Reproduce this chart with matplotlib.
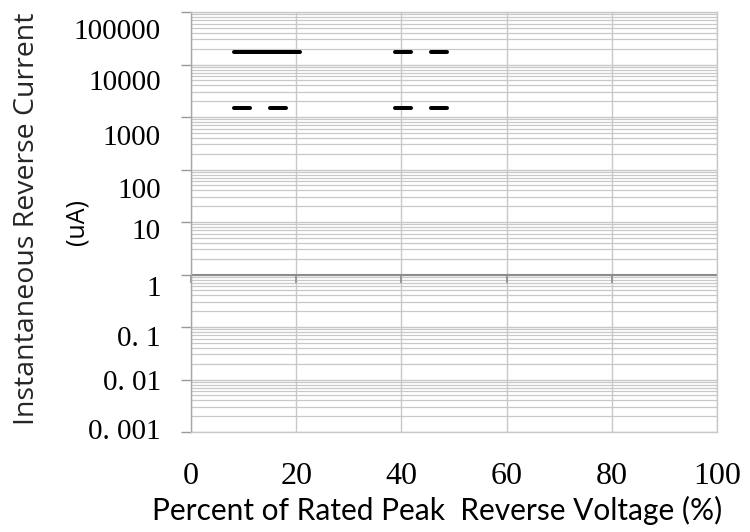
import matplotlib
matplotlib.use("Agg")
import matplotlib.pyplot as plt
from matplotlib.transforms import offset_copy, blended_transform_factory
import numpy as np

# ---- data ----
solid_x = [8.2, 20.7]
solid_y = [17300, 17300]
dash_hi_x = [38.8, 48.9]
dash_hi_y = [17300, 17300]
dash_lo_left_x = [8.2, 18.1]
dash_lo_left_y = [1480, 1480]
dash_lo_right_x = [38.8, 48.9]
dash_lo_right_y = [1480, 1480]

x_ticks = [0, 20, 40, 60, 80, 100]
x_tick_labels = ["0", "20", "40", "60", "80", "100"]
y_ticks = [1e-3, 1e-2, 1e-1, 1, 10, 100, 1000, 1e4, 1e5]
y_tick_labels = ["0. 001", "0. 01", "0. 1", "1", "10", "100", "1000", "10000", "100000"]
x_label = "Percent of Rated Peak  Reverse Voltage (%)"
y_label = "Instantaneous Reverse Current"
y_unit = "(uA)"

# ---- layout ----
DPI = 100
fig = plt.figure(figsize=(7.5, 5.32), dpi=DPI)
ax = fig.add_axes([191/750, 1-432/532, (717-191)/750, (432-12)/532])
ax.set_yscale("log")
ax.set_xlim(0, 100)
ax.set_ylim(1e-3, 1e5)

grid_c = "#c8c8c8"
ax.set_yticks(y_ticks)
ax.set_yticklabels([])
ax.yaxis.set_minor_locator(matplotlib.ticker.LogLocator(base=10, subs=np.arange(2, 10), numticks=100))
ax.yaxis.set_minor_formatter(matplotlib.ticker.NullFormatter())
ax.set_xticks(x_ticks)
ax.set_xticklabels([])
ax.grid(True, which="major", axis="both", color=grid_c, lw=1.0)
ax.grid(True, which="minor", axis="y", color=grid_c, lw=0.9)
ax.tick_params(axis="y", which="major", direction="out", length=7, width=1, color="#999999")
ax.tick_params(axis="y", which="minor", length=0)
ax.tick_params(axis="x", which="both", length=0)
for s in ["top", "right", "bottom"]:
    ax.spines[s].set_color(grid_c)
    ax.spines[s].set_linewidth(1.0)
ax.spines["left"].set_color("#a6a6a6")
ax.spines["left"].set_linewidth(1.0)

# horizontal axis crossing at 1
ax.axhline(1, color="#8c8c8c", lw=1.5, zorder=2)
ax.plot(x_ticks[:-1], [1]*5, ls="none", marker=3, ms=6, mew=1.2, color="#8c8c8c", zorder=2, clip_on=False)

# y tick labels (placed as in the reference)
tick_off_px = [0, 3, 12, 14, 10, 21, 21, 18, 20]
trans = blended_transform_factory(fig.transFigure, ax.transData)
for yv, lab, off in zip(y_ticks, y_tick_labels, tick_off_px):
    t = offset_copy(trans, fig=fig, x=0, y=-off*72/DPI, units="points")
    ax.text(161/750, yv, lab, transform=t, ha="right", va="center",
            fontsize=21, family="Liberation Serif", color="#000000")

# x tick labels
transx = blended_transform_factory(ax.transData, fig.transFigure)
for xv, lab in zip(x_ticks, x_tick_labels):
    ax.text(xv, 1-477/532, lab, transform=transx, ha="center", va="center",
            fontsize=23, family="Liberation Serif", color="#000000")

# data lines
lw = 4*72/DPI
ax.plot(solid_x, solid_y, color="black", lw=lw, solid_capstyle="round", zorder=3)
for xs, ys in [(dash_hi_x, dash_hi_y), (dash_lo_left_x, dash_lo_left_y), (dash_lo_right_x, dash_lo_right_y)]:
    ax.plot(xs, ys, color="black", lw=lw, ls=(0, (4, 5)), dash_capstyle="round", zorder=3)

# axis titles
fig.text(437/750, 1-510/532, x_label, ha="center", va="center", fontsize=21.5,
         family="Lato", color="#000000")
fig.text(27/750, 1-219/532, y_label, ha="center", va="center", rotation=90,
         fontsize=20.5, family="Open Sans", color="#262626")
fig.text(77/750, 1-222/532, y_unit, ha="center", va="center", rotation=90,
         fontsize=18, family="Open Sans", color="#000000")

fig.savefig("out.png", dpi=DPI)
